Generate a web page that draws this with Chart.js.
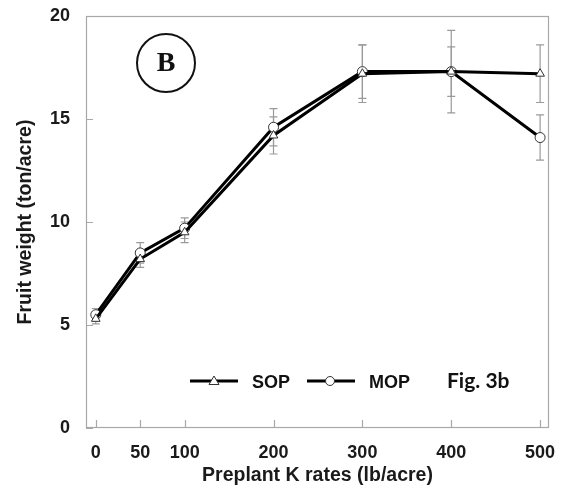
<!DOCTYPE html>
<html>
<head>
<meta charset="utf-8">
<script src="https://cdn.jsdelivr.net/npm/chart.js@4.4.0/dist/chart.umd.min.js"></script>
<style>
  html, body { margin: 0; padding: 0; background: #fff; }
  #wrap { width: 564px; height: 491px; position: relative; }
</style>
</head>
<body>
<div id="wrap"><canvas id="fruitChart" width="564" height="491"></canvas></div>
<script>
const kRates = [0, 50, 100, 200, 300, 400, 500];
const sopValues = [5.3, 8.2, 9.5, 14.2, 17.2, 17.3, 17.2];
const sopErrors = [0.25, 0.4, 0.5, 0.9, 1.4, 1.2, 1.4];
const mopValues = [5.5, 8.5, 9.7, 14.6, 17.3, 17.3, 14.1];
const mopErrors = [0.3, 0.5, 0.5, 0.9, 1.3, 2.0, 1.1];
const yTicks = [0, 5, 10, 15, 20];

const ctx = document.getElementById("fruitChart").getContext("2d");

function toPoints(values) {
  return kRates.map((k, i) => ({ x: k, y: values[i] }));
}

// grey error bars, drawn under the lines
const errorBars = {
  id: "errorBars",
  beforeDatasetsDraw(chart) {
    const c = chart.ctx;
    const xs = chart.scales.x, ys = chart.scales.y;
    const sets = [[sopValues, sopErrors], [mopValues, mopErrors]];
    c.save();
    c.strokeStyle = "#9a9a9a";
    c.lineWidth = 1.2;
    sets.forEach(([vals, errs]) => {
      kRates.forEach((k, i) => {
        const px = xs.getPixelForValue(k);
        const top = ys.getPixelForValue(vals[i] + errs[i]);
        const bot = ys.getPixelForValue(vals[i] - errs[i]);
        c.beginPath();
        c.moveTo(px, top); c.lineTo(px, bot);
        c.moveTo(px - 4, top); c.lineTo(px + 4, top);
        c.moveTo(px - 4, bot); c.lineTo(px + 4, bot);
        c.stroke();
      });
    });
    c.restore();
  }
};

// frame, inside ticks, legend, panel letter and figure tag
const decorations = {
  id: "decorations",
  beforeDatasetsDraw(chart) {
    const c = chart.ctx;
    const a = chart.chartArea;
    const xs = chart.scales.x, ys = chart.scales.y;
    c.save();
    c.strokeStyle = "#a8a8a8";
    c.lineWidth = 1.2;
    c.strokeRect(a.left + 0.5, a.top + 0.5, a.right - a.left - 1, a.bottom - a.top - 1);
    c.beginPath();
    kRates.forEach(k => {
      const px = Math.round(xs.getPixelForValue(k)) + 0.5;
      c.moveTo(px, a.bottom); c.lineTo(px, a.bottom - 8);
    });
    yTicks.forEach(t => {
      const py = Math.round(ys.getPixelForValue(t)) + 0.5;
      c.moveTo(a.left, py); c.lineTo(a.left + 7, py);
    });
    c.stroke();
    c.restore();
  },
  afterDraw(chart) {
    const c = chart.ctx;
    c.save();
    // circled B
    c.beginPath();
    c.arc(166, 63, 29, 0, Math.PI * 2);
    c.lineWidth = 2;
    c.strokeStyle = "#111";
    c.stroke();
    c.fillStyle = "#111";
    c.font = "bold 28px 'Liberation Serif', serif";
    c.textAlign = "center";
    c.textBaseline = "middle";
    c.fillText("B", 166, 64);

    // legend
    const ly = 381;
    c.lineWidth = 3;
    c.strokeStyle = "#000";
    c.beginPath();
    c.moveTo(190, ly); c.lineTo(238, ly);
    c.moveTo(307, ly); c.lineTo(355, ly);
    c.stroke();
    c.lineWidth = 1;
    c.strokeStyle = "#333";
    c.fillStyle = "#fff";
    c.beginPath();
    c.moveTo(214, ly - 5); c.lineTo(219, ly + 3.5); c.lineTo(209, ly + 3.5); c.closePath();
    c.fill(); c.stroke();
    c.beginPath();
    c.arc(330, ly, 4.5, 0, Math.PI * 2);
    c.fill(); c.stroke();
    c.fillStyle = "#111";
    c.textAlign = "left";
    c.textBaseline = "middle";
    c.font = "bold 18px 'Liberation Sans', Arial, sans-serif";
    c.fillText("SOP", 252, ly + 2);
    c.fillText("MOP", 369, ly + 2);
    c.font = "bold 21px Lato, sans-serif";
    c.fillText("Fig. 3b", 447, ly);
    c.restore();
  }
};

const fruitChart = new Chart(ctx, {
  type: "line",
  data: {
    datasets: [
      {
        label: "SOP",
        data: toPoints(sopValues),
        borderColor: "#000",
        borderWidth: 3,
        pointStyle: "triangle",
        pointRadius: 5,
        pointBorderWidth: 1,
        pointBorderColor: "#333",
        pointBackgroundColor: "#fff"
      },
      {
        label: "MOP",
        data: toPoints(mopValues),
        borderColor: "#000",
        borderWidth: 3,
        pointStyle: "circle",
        pointRadius: 5,
        pointBorderWidth: 1,
        pointBorderColor: "#333",
        pointBackgroundColor: "#fff"
      }
    ]
  },
  options: {
    responsive: false,
    animation: false,
    layout: { padding: { left: 0, top: 16, right: 15, bottom: 0 } },
    plugins: {
      legend: { display: false },
      tooltip: { enabled: false }
    },
    scales: {
      x: {
        type: "linear",
        min: -11,
        max: 510,
        afterBuildTicks: s => { s.ticks = kRates.map(v => ({ value: v })); },
        afterFit: s => { s.height = 63; s.paddingLeft = 0; s.paddingRight = 0; },
        grid: { display: false, drawTicks: false },
        border: { display: false },
        ticks: {
          padding: 14,
          color: "#1a1a1a",
          font: { family: "'Liberation Sans', Arial, sans-serif", size: 18, weight: "bold" }
        },
        title: {
          display: true,
          text: "Preplant K rates (lb/acre)",
          color: "#1a1a1a",
          padding: { top: 6 },
          font: { family: "'Liberation Sans', Arial, sans-serif", size: 19.5, weight: "bold" }
        }
      },
      y: {
        min: 0,
        max: 20,
        afterBuildTicks: s => { s.ticks = yTicks.map(v => ({ value: v })); },
        afterFit: s => { s.width = 86; s.paddingTop = 0; s.paddingBottom = 0; },
        grid: { display: false, drawTicks: false },
        border: { display: false },
        ticks: {
          padding: 16,
          color: "#1a1a1a",
          font: { family: "'Liberation Sans', Arial, sans-serif", size: 18, weight: "bold" }
        },
        title: {
          display: true,
          text: "Fruit weight (ton/acre)",
          color: "#1a1a1a",
          padding: { top: 14 },
          font: { family: "'Liberation Sans', Arial, sans-serif", size: 19.5, weight: "bold" }
        }
      }
    }
  },
  plugins: [errorBars, decorations]
});
</script>
</body>
</html>
